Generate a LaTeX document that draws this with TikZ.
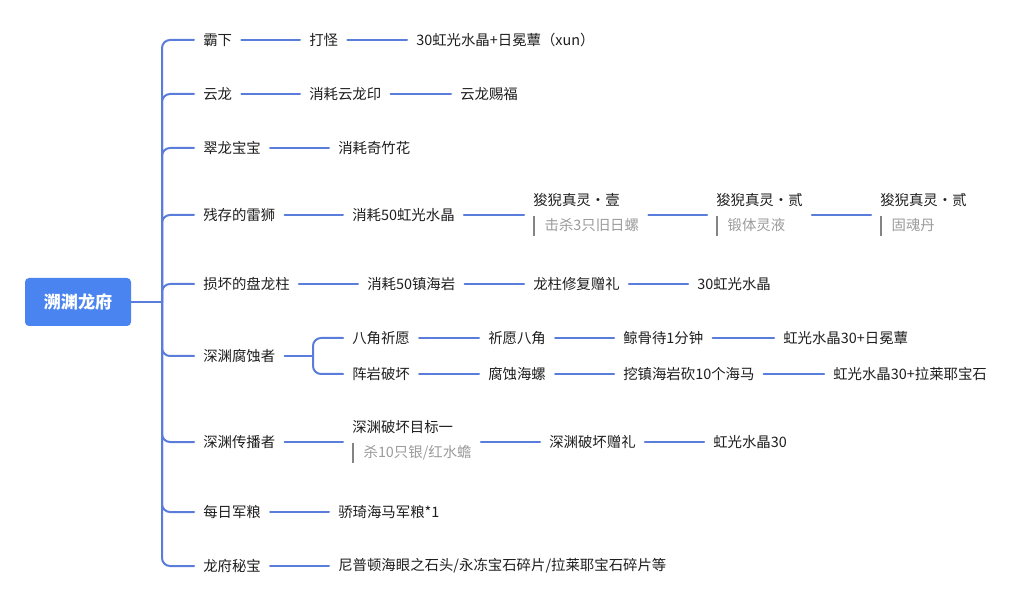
\documentclass[tikz,border=0pt]{standalone}
\usepackage{fontspec}
\setmainfont{Noto Sans CJK SC}
\usepackage{xcolor}
\definecolor{linkblue}{RGB}{90,124,218}
\definecolor{rootblue}{RGB}{74,132,240}
\definecolor{txtgray}{RGB}{30,30,30}
\definecolor{notegray}{RGB}{155,155,155}
\newcommand{\notetext}[1]{{\color{notegray!85!black}\vrule width 1.5pt height 11pt depth 4pt}\hspace{7pt}{\color{notegray}#1}}

\begin{document}
\begin{tikzpicture}[x=0.75pt, y=-0.75pt, line cap=round, line join=round,
		link/.style={draw=linkblue, line width=1.5pt},
		item/.style={anchor=west, inner xsep=6.75pt, inner ysep=2pt, text=txtgray, font=\fontsize{10.8}{13}\selectfont},
		itemnote/.style={item, align=left, font=\fontsize{10.8}{18.75}\selectfont},
		rootbox/.style={fill=rootblue, rounded corners=3pt, minimum width=79.5pt, minimum height=36pt, text=white, font=\fontsize{12.8}{15}\selectfont\bfseries}]
					\useasboundingbox (0,0) rectangle (1020,605);
					\node[rootbox] (root) at (78,302) {溯渊龙府};
					\coordinate (fork) at (162,302);
					\draw[link] (root.east) -- (fork);

					\node[item] (a1) at (194,40) {霸下};
					\node[item] (a2) at (300,40) {打怪};
					\node[item] (a3) at (407,40) {30虹光水晶+日冕蕈（xun）};
					\node[item] (b1) at (194,94) {云龙};
					\node[item] (b2) at (300,94) {消耗云龙印};
					\node[item] (b3) at (451,94) {云龙赐福};
					\node[item] (c1) at (194,148) {翠龙宝宝};
					\node[item] (c2) at (329,148) {消耗奇竹花};

					\node[item] (d1) at (194,215) {残存的雷狮};
					\node[item] (d2) at (343,215) {消耗50虹光水晶};
					\node[itemnote] (d3) at (524,215) {狻猊真灵・壹\\\notetext{击杀3只旧日螺}};
					\node[itemnote] (d4) at (707,215) {狻猊真灵・贰\\\notetext{锻体灵液}};
					\node[itemnote] (d5) at (871,215) {狻猊真灵・贰\\\notetext{固魂丹}};

					\node[item] (e1) at (194,284) {损坏的盘龙柱};
					\node[item] (e2) at (358,284) {消耗50镇海岩};
					\node[item] (e3) at (524,284) {龙柱修复赠礼};
					\node[item] (e4) at (688,284) {30虹光水晶};

					\node[item] (f1) at (194,356) {深渊腐蚀者};
					\coordinate (fork2) at (313,356);
					\node[item] (f2) at (343,338) {八角祈愿};
					\node[item] (f3) at (479,338) {祈愿八角};
					\node[item] (f4) at (614,338) {鲸骨待1分钟};
					\node[item] (f5) at (774,338) {虹光水晶30+日冕蕈};
					\node[item] (g2) at (343,374) {阵岩破坏};
					\node[item] (g3) at (479,374) {腐蚀海螺};
					\node[item] (g4) at (614,374) {挖镇海岩砍10个海马};
					\node[item] (g5) at (824,374) {虹光水晶30+拉莱耶宝石};

					\node[item] (h1) at (194,442) {深渊传播者};
					\node[itemnote] (h2) at (343,442) {深渊破坏目标一\\\notetext{杀10只银/红水蟾}};
					\node[item] (h3) at (540,442) {深渊破坏赠礼};
					\node[item] (h4) at (704,442) {虹光水晶30};

					\node[item] (i1) at (194,512) {每日军粮};
					\node[item] (i2) at (329,512) {骄琦海马军粮*1};
					\node[item] (j1) at (194,566) {龙府秘宝};
					\node[item] (j2) at (329,566) {尼普顿海眼之石头/永冻宝石碎片/拉莱耶宝石碎片等};

					\foreach \n in {a1,b1,c1,d1,e1,f1,h1,i1,j1}
						\draw[link, rounded corners=6pt] (fork) |- (\n.west);
					\draw[link] (f1.east) -- (fork2);
					\draw[link, rounded corners=6pt] (fork2) |- (f2.west);
					\draw[link, rounded corners=6pt] (fork2) |- (g2.west);

					\foreach \s/\t in {a1/a2,a2/a3,b1/b2,b2/b3,c1/c2,d1/d2,d2/d3,d3/d4,d4/d5,e1/e2,e2/e3,e3/e4,
						f2/f3,f3/f4,f4/f5,g2/g3,g3/g4,g4/g5,h1/h2,h2/h3,h3/h4,i1/i2,j1/j2}
						\draw[link] (\s.east) -- (\t.west);
				\end{tikzpicture}
\end{document}
